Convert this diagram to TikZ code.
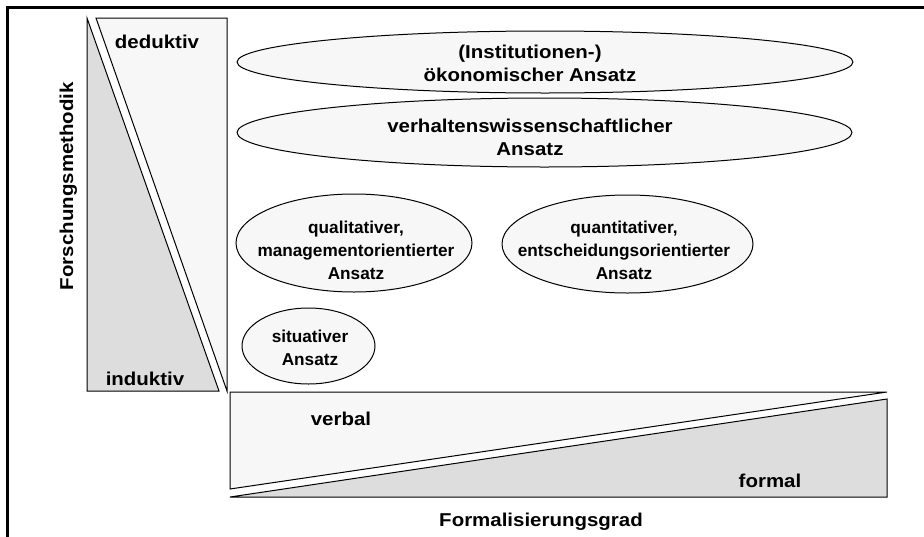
\documentclass[tikz,border=0pt]{standalone}
\usepackage{fontspec}
\setmainfont{Liberation Sans}[FakeStretch=1.1]
\newfontfamily\plainsans{Liberation Sans}
\usetikzlibrary{shapes.geometric}
\definecolor{lightfill}{HTML}{F7F7F7}
\definecolor{greyfill}{HTML}{DDDDDD}
\begin{document}
\begin{tikzpicture}[x=1pt,y=-1pt,
  ell/.style={ellipse,draw=black,line width=1pt,fill=lightfill,inner sep=0pt},
  txt/.style={font=\fontsize{18.6}{23}\selectfont\bfseries,align=center,inner sep=0pt},
  txtsmall/.style={font=\plainsans\fontsize{17.2}{23}\selectfont\bfseries,align=center,inner sep=0pt},
  lightpoly/.style={draw=black,line width=1pt,fill=lightfill,line join=miter},
  greypoly/.style={draw=black,line width=1pt,fill=greyfill,line join=miter}]
\useasboundingbox (0,0) rectangle (924,536);
% frame
\draw[line width=3pt] (7.5,540) -- (7.5,7.5) -- (930,7.5);
% left bar
\draw[greypoly] (87,18) -- (87,391) -- (219,391) -- cycle;
\draw[lightpoly] (96,18) -- (227,18) -- (227,391) -- cycle;
% bottom bar
\draw[lightpoly] (230,392) -- (887,392) -- (230,489) -- cycle;
\draw[greypoly] (230,497) -- (887,497) -- (887,399) -- cycle;
% ellipses
\node[ell,minimum width=616,minimum height=62] (e1) at (545,62) {};
\node[ell,minimum width=615,minimum height=69] (e2) at (544.5,132.5) {};
\node[ell,minimum width=236,minimum height=98] (e3) at (354,243) {};
\node[ell,minimum width=251,minimum height=98] (e4) at (627.5,244) {};
\node[ell,minimum width=133,minimum height=76] (e5) at (308.5,346) {};
% ellipse texts (anchor at baseline of last line)
\node[txt,anchor=base] (t1) at (530,81) {(Institutionen-)\\ökonomischer Ansatz};
\node[txt,anchor=base] (t2) at (530,155) {verhaltenswissenschaftlicher\\Ansatz};
\node[txtsmall,anchor=base] (t3) at (356,279) {qualitativer,\\managementorientierter\\Ansatz};
\node[txtsmall,anchor=base] (t4) at (624,279) {quantitativer,\\entscheidungsorientierter\\Ansatz};
\node[txtsmall,anchor=base] (t5) at (310,365) {situativer\\Ansatz};
% axis texts
\node[txt,anchor=base] (ded) at (157,48) {deduktiv};
\node[txt,anchor=base] (ind) at (145,385) {induktiv};
\node[txt,anchor=base] (verb) at (341,425) {verbal};
\node[txt,anchor=base] (form) at (770,487) {formal};
\node[txt,anchor=base] (fg) at (541,526) {Formalisierungsgrad};
\node[txt,anchor=base,rotate=90] (fm) at (73,186) {Forschungsmethodik};
\end{tikzpicture}
\end{document}
